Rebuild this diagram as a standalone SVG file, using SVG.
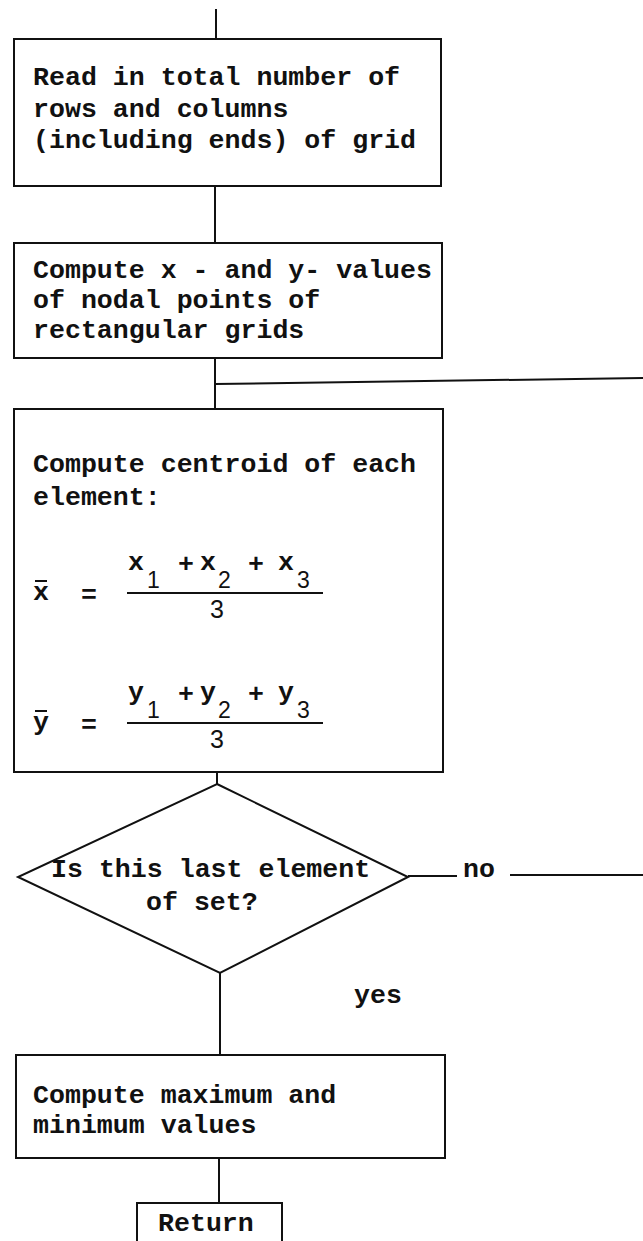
<svg xmlns="http://www.w3.org/2000/svg" width="643" height="1241" viewBox="0 0 643 1241">
<style>
.box{fill:none;stroke:#111;stroke-width:2}
.ln{fill:none;stroke:#111;stroke-width:2}
.t{font-family:"Liberation Mono","Courier New",monospace;font-size:26.6px;font-weight:bold;fill:#111}
.d{font-family:"Liberation Sans",Arial,sans-serif;font-size:23px;fill:#111}
</style>
<rect width="643" height="1241" fill="#fff"/>
<g id="connectors">
<line class="ln" x1="216" y1="9" x2="216" y2="39"/>
<line class="ln" x1="215" y1="186" x2="215" y2="243"/>
<line class="ln" x1="215" y1="358" x2="215" y2="409"/>
<line class="ln" x1="215" y1="384" x2="643" y2="378"/>
<line class="ln" x1="217" y1="772" x2="217" y2="784"/>
<line class="ln" x1="408" y1="876" x2="457" y2="876"/>
<line class="ln" x1="510" y1="875" x2="643" y2="875"/>
<line class="ln" x1="220" y1="973" x2="220" y2="1055"/>
<line class="ln" x1="219" y1="1158" x2="219" y2="1203"/>
<text class="t" x="463" y="877">no</text>
<text class="t" x="354" y="1003">yes</text>
</g>
<g id="read">
<rect class="box" x="14" y="39" width="427" height="147"/>
<text class="t" x="33" y="85">Read in total number of</text>
<text class="t" x="33" y="117">rows and columns</text>
<text class="t" x="33" y="148">(including ends) of grid</text>
</g>
<g id="nodal">
<rect class="box" x="14" y="243" width="428" height="115"/>
<text class="t" x="33" y="278">Compute x - and y- values</text>
<text class="t" x="33" y="308">of nodal points of</text>
<text class="t" x="33" y="338">rectangular grids</text>
</g>
<g id="centroid">
<rect class="box" x="14" y="409" width="429" height="363"/>
<text class="t" x="33" y="472">Compute centroid of each</text>
<text class="t" x="33" y="505">element:</text>
<text class="t" x="33" y="600">x</text>
<line class="ln" x1="35" y1="581" x2="47" y2="581"/>
<text class="t" x="81" y="603">=</text>
<text class="t" x="128" y="570">x</text>
<text class="d" x="147" y="588">1</text>
<text class="t" x="178" y="572">+</text>
<text class="t" x="200" y="570">x</text>
<text class="d" x="218" y="588">2</text>
<text class="t" x="248" y="572">+</text>
<text class="t" x="278" y="570">x</text>
<text class="d" x="297" y="588">3</text>
<line class="ln" x1="127" y1="593" x2="323" y2="593"/>
<text class="d" x="210" y="618" style="font-size:25px">3</text>
<text class="t" x="33" y="730">y</text>
<line class="ln" x1="35" y1="711" x2="47" y2="711"/>
<text class="t" x="81" y="733">=</text>
<text class="t" x="128" y="700">y</text>
<text class="d" x="147" y="718">1</text>
<text class="t" x="178" y="702">+</text>
<text class="t" x="200" y="700">y</text>
<text class="d" x="218" y="718">2</text>
<text class="t" x="248" y="702">+</text>
<text class="t" x="278" y="700">y</text>
<text class="d" x="297" y="718">3</text>
<line class="ln" x1="127" y1="723" x2="323" y2="723"/>
<text class="d" x="210" y="748" style="font-size:25px">3</text>
</g>
<g id="decision">
<polygon class="box" points="217,784 408,877 220,973 18,877"/>
<text class="t" x="51" y="877">Is this last element</text>
<text class="t" x="146" y="910">of set?</text>
</g>
<g id="maxmin">
<rect class="box" x="16" y="1055" width="429" height="103"/>
<text class="t" x="33" y="1103">Compute maximum and</text>
<text class="t" x="33" y="1133">minimum values</text>
</g>
<g id="return">
<rect class="box" x="137" y="1203" width="145" height="44"/>
<text class="t" x="158" y="1231">Return</text>
</g>
</svg>
